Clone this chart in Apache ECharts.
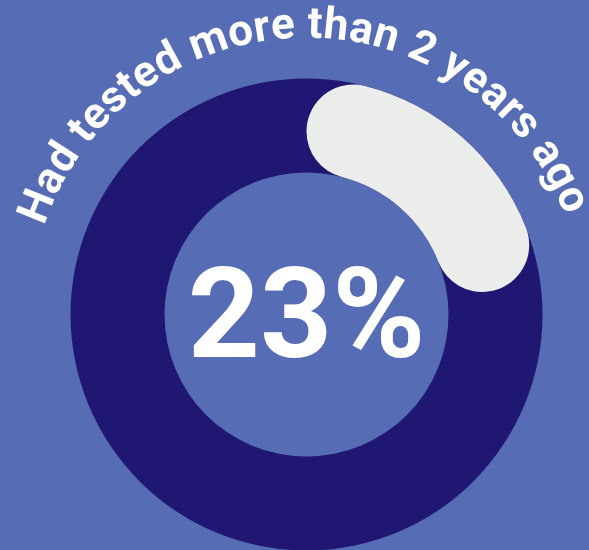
<!DOCTYPE html>
<html>
<head>
<meta charset="utf-8">
<script src="https://cdn.jsdelivr.net/npm/echarts@6/dist/echarts.min.js"></script>
<style>
  html, body { margin: 0; padding: 0; background: #566db5; }
  #chart { width: 589px; height: 550px; }
</style>
</head>
<body>
<div id="chart"></div>
<script>
// Share of respondents by time since their last test
const categories = ['Had tested more than 2 years ago', 'Other'];
const values = [23, 77];
const headline = 'Had tested more than 2 years ago';

const BG = '#566db5';
const RING = '#201772';
const HIGHLIGHT = '#ebedea';
const CX = 306.5, CY = 314.5;
const R_IN = 142, R_OUT = 236;

const chart = echarts.init(document.getElementById('chart'), null, { renderer: 'canvas' });

// Curved headline: lay out each glyph along an arc above the ring
const FONT_SIZE = 44;
const FONT = 'bold ' + FONT_SIZE + 'px Roboto';
const ctx = document.createElement('canvas').getContext('2d');
ctx.font = FONT;
const ARC_R = 288;          // radius of the glyph centre line
const BASE_R = 272;         // radius used for spacing along the baseline
const widths = Array.from(headline).map(ch => ctx.measureText(ch).width);
const total = widths.reduce((a, b) => a + b, 0);
let acc = 0;
const arcCenter = -0.02;    // radians, clockwise from 12 o'clock
const startAng = arcCenter - total / BASE_R / 2;
const glyphs = Array.from(headline).map((ch, i) => {
  const th = startAng + (acc + widths[i] / 2) / BASE_R;
  acc += widths[i];
  return {
    type: 'text',
    x: CX + ARC_R * Math.sin(th),
    y: CY - ARC_R * Math.cos(th),
    rotation: -th,
    silent: true,
    style: {
      text: ch,
      font: FONT,
      fill: '#ffffff',
      align: 'center',
      verticalAlign: 'middle'
    }
  };
});

chart.setOption({
  backgroundColor: BG,
  animation: false,
  series: [
    {
      // full dark track
      type: 'pie',
      center: [CX, CY],
      radius: [R_IN, R_OUT],
      silent: true,
      label: { show: false },
      labelLine: { show: false },
      itemStyle: { color: RING, borderWidth: 0 },
      data: [{ name: 'track', value: 1 }]
    },
    {
      type: 'pie',
      center: [CX, CY],
      radius: [R_IN, R_OUT],
      startAngle: 90,
      clockwise: true,
      silent: true,
      labelLine: { show: false },
      labelLayout: { dy: 11 },
      emphasis: { disabled: true },
      data: categories.map((name, i) => ({
        name,
        value: values[i],
        itemStyle: i === 0
          ? { color: HIGHLIGHT, borderRadius: 47, borderWidth: 0 }
          : { color: 'rgba(0,0,0,0)', borderWidth: 0 },
        label: i === 0
          ? {
              show: true,
              position: 'center',
              formatter: p => p.value + '%',
              fontFamily: 'Roboto',
              fontWeight: 'bold',
              fontSize: 126,
              color: '#ffffff'
            }
          : { show: false }
      }))
    }
  ],
  graphic: glyphs
});
</script>
</body>
</html>
